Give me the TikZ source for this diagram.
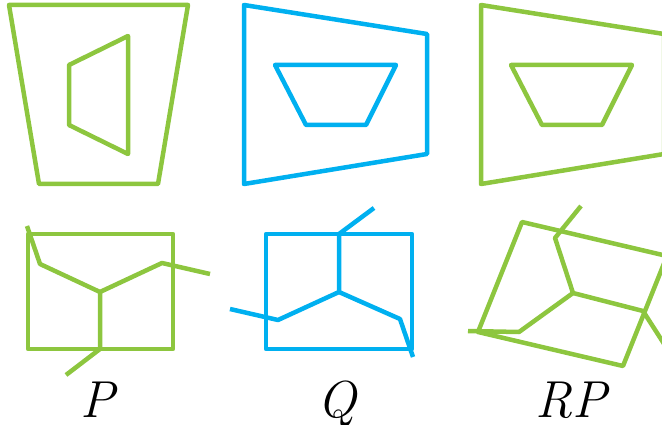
\documentclass[tikz,border=0pt]{standalone}
\definecolor{lgreen}{RGB}{141,198,63}
\definecolor{lblue}{RGB}{0,176,240}
\tikzset{
  gline/.style={draw=lgreen,line width=4.5pt,line join=round},
  bline/.style={draw=lblue,line width=4.5pt,line join=round},
  lab/.style={inner sep=0pt,font=\fontsize{52}{60}\selectfont\itshape}
}
\begin{document}
\begin{tikzpicture}[x=1pt,y=-1pt]
\useasboundingbox (0,0) rectangle (662,425);
\clip (0,0) rectangle (662,425);
% top row
\draw[gline] (9,5) -- (188,5) -- (158,184) -- (39,184) -- cycle;
\draw[gline] (69,65) -- (128,36) -- (128,154) -- (69,125) -- cycle;
\draw[bline] (244,5) -- (427,34) -- (427,154) -- (244,184) -- cycle;
\draw[bline] (275,65) -- (396,65) -- (366,125) -- (306,125) -- cycle;
\draw[gline] (481,5) -- (664,34) -- (664,154) -- (481,184) -- cycle;
\draw[gline] (511,65) -- (632,65) -- (602,125) -- (542,125) -- cycle;
% bottom row: P
\draw[gline] (28,234) -- (173,234) -- (173,349) -- (28,349) -- cycle;
\coordinate (pc) at (100,292);
\draw[gline] (pc) -- (100,349) -- (66,375);
\draw[gline] (pc) -- (40,264) -- (27,226);
\draw[gline] (pc) -- (162,263) -- (210,274);
% Q
\draw[bline] (266,234) -- (412,234) -- (412,349) -- (266,349) -- cycle;
\coordinate (qc) at (339,292);
\draw[bline] (qc) -- (339,234) -- (374,208);
\draw[bline] (qc) -- (278,320) -- (230,309);
\draw[bline] (qc) -- (400,319) -- (413,357);
% RP
\draw[gline] (522,222) -- (667,256) -- (623,366) -- (478,332) -- cycle;
\coordinate (rc) at (573,293);
\draw[gline] (rc) -- (555,238) -- (581,206);
\draw[gline] (rc) -- (519,332) -- (468,331);
\draw[gline] (rc) -- (643,311) -- (668,350);
% labels
\node[lab,anchor=base] (lP) at (98,417) {P};
\node[lab,anchor=base] (lQ) at (337,417) {Q};
\node[lab,anchor=base] (lRP) at (571,417) {RP};
\end{tikzpicture}
\end{document}
